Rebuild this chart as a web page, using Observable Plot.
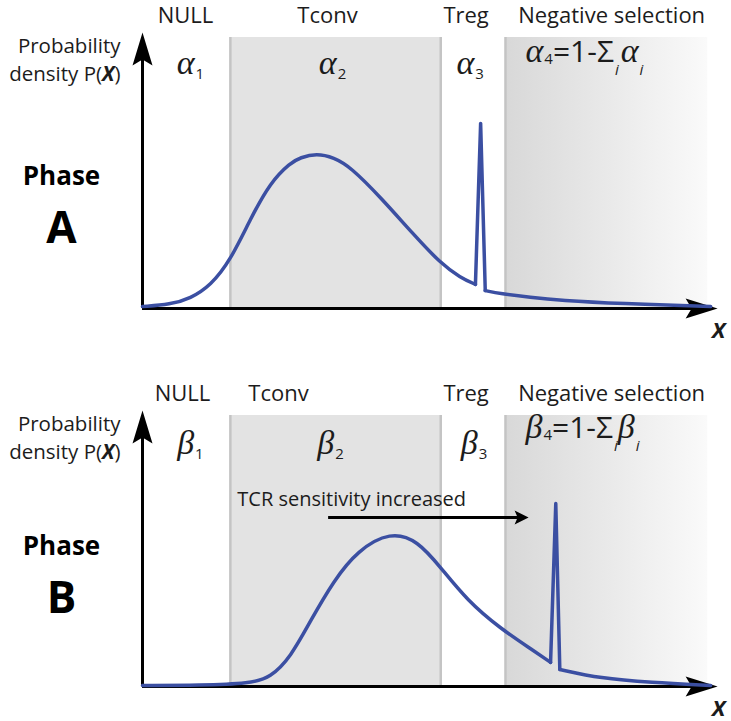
<!DOCTYPE html>
<html><head><meta charset="utf-8">
<script src="https://cdn.jsdelivr.net/npm/d3@7"></script>
<script src="https://cdn.jsdelivr.net/npm/@observablehq/plot@0.6"></script>
<style>html,body{margin:0;padding:0;background:#fff;overflow:hidden}svg{display:block}</style>
</head><body><div id="chart"></div>
<script>
// ---------- data ----------
const regions = ["NULL", "Tconv", "Treg", "Negative selection"];
const regionEdges = [0, 1.52, 5.16, 6.28, 9.78];
const greekA = ["α₁", "α₂", "α₃", "α₄=1-Σᵢ αᵢ"];
const greekB = ["β₁", "β₂", "β₃", "β₄=1-Σᵢβᵢ"];
const curveAx = [0, 0.48, 0.83, 1.18, 1.52, 1.87, 2.21, 2.56, 2.73, 3.01, 3.31, 3.60, 4.12, 4.69, 5.16, 5.50, 5.76, 5.85, 5.93, 6.19, 6.71, 7.23, 8.27, 9.83];
const curveAy = [0.007, 0.015, 0.037, 0.085, 0.177, 0.332, 0.465, 0.538, 0.557, 0.572, 0.557, 0.522, 0.410, 0.273, 0.166, 0.114, 0.089, 0.683, 0.066, 0.055, 0.041, 0.030, 0.018, 0.007];
const curveBx = [0, 1.00, 1.87, 2.21, 2.56, 2.91, 3.31, 3.72, 4.29, 4.76, 5.16, 5.62, 6.19, 6.76, 7.06, 7.15, 7.22, 7.92, 8.79, 9.83];
const curveBy = [0.004, 0.004, 0.011, 0.033, 0.107, 0.244, 0.391, 0.502, 0.572, 0.539, 0.439, 0.317, 0.214, 0.133, 0.089, 0.675, 0.063, 0.030, 0.015, 0.004];
const phases = ["A", "B"];
const phaseWord = "Phase";
const yAxisLabel = "Probability\ndensity P(X)";
const xAxisLabel = "X";
const annotationB = "TCR sensitivity increased";
const annotationArrowB = [3.22, 6.68]; // x from → to

// ---------- style ----------
const SANS = "'Open Sans', sans-serif";
const SERIF = "'Liberation Serif', serif";
const INK = "#1c1c1c";
const BLUE = "#3b4fa2";
const PX = 10 / 578; // one pixel in x data units
const PY = 1 / 271;  // one pixel in y data units

function arrowSymbol(pts) {
  return {draw(ctx) { ctx.moveTo(pts[0][0], pts[0][1]); for (let i = 1; i < pts.length; i++) ctx.lineTo(pts[i][0], pts[i][1]); ctx.closePath(); }};
}
const headUp = arrowSymbol([[0, 0], [10, 33], [0, 27], [-10, 33]]);
const headRight = arrowSymbol([[0, 0], [-32, 10], [-26, 0], [-32, -10]]);
const headSmall = arrowSymbol([[0, 0], [-14, 7], [-11, 0], [-14, -7]]);

function panel(cfg) {
  const centers = d3.range(4).map(i => (regionEdges[i] + regionEdges[i + 1]) / 2);
  const curve = cfg.xs.map((x, i) => ({x, y: cfg.ys[i]}));
  const iSpike = d3.maxIndex(cfg.ys.map((y, i) => (i > 0 && i < cfg.ys.length - 1 && y > cfg.ys[i - 1] && y > cfg.ys[i + 1] && cfg.ys[i - 1] < 0.2) ? y : -1));
  const body = curve.slice(0, iSpike);
  const spike = curve.slice(iSpike - 1, iSpike + 2);
  const tail = curve.slice(iSpike + 1);
  const gid = "neg-grad-" + cfg.phase;
  const defs = () => {
    const d = d3.create("svg:defs");
    const g = d.append("linearGradient").attr("id", gid).attr("x1", 0).attr("x2", 1).attr("y1", 0).attr("y2", 0);
    g.append("stop").attr("offset", 0).attr("stop-color", "#d8d8d8");
    g.append("stop").attr("offset", 1).attr("stop-color", "#fafafa");
    return d.node();
  };
  const tc = regions.indexOf("Tconv"), ng = regions.indexOf("Negative selection");
  const yTip = 1 + 5 * PY, xTip = 9.95;
  const lineStyle = {x: "x", y: "y", stroke: BLUE, strokeWidth: 3.5, strokeLinejoin: "round", strokeLinecap: "round"};
  const marks = [
    defs,
    Plot.rect([tc], {x1: i => regionEdges[i], x2: i => regionEdges[i + 1], y1: 0, y2: 1, fill: "#e3e3e3"}),
    Plot.rect([ng], {x1: i => regionEdges[i], x2: i => regionEdges[i + 1], y1: 0, y2: 1, fill: `url(#${gid})`}),
    Plot.ruleX(regionEdges.slice(1, 4), {y1: 0, y2: 1, stroke: "#c4c4c4", strokeWidth: 2.5}),
    // axes
    Plot.ruleX([0], {y1: 0, y2: yTip - 24 * PY, stroke: "#000", strokeWidth: 3}),
    Plot.ruleY([0], {x1: 0, x2: xTip - 24 * PX, stroke: "#000", strokeWidth: 3}),
    Plot.dot([0], {x: 0, y: yTip, symbol: headUp, fill: "#000", stroke: "none"}),
    Plot.dot([0], {x: xTip, y: 0, symbol: headRight, fill: "#000", stroke: "none"}),
    // curve: smooth body, sharp spike, smooth tail
    Plot.line(body, {...lineStyle, curve: "basis"}),
    Plot.line(spike, {...lineStyle, curve: "linear"}),
    Plot.line(tail, {...lineStyle, curve: "basis"}),
    // region labels
    Plot.text(regions.filter((d, i) => !(cfg.tconvStart && i === tc)), {
      x: d => centers[regions.indexOf(d)] + cfg.labelShift[regions.indexOf(d)] * PX,
      y: 1 + 22 * PY, text: d => d, fontSize: 22, fill: INK, textAnchor: "middle"
    }),
    // greek
    Plot.text(cfg.greek.slice(0, 3), {x: (d, i) => centers[i] + cfg.greekShift[i] * PX, y: cfg.greekY, text: d => d, fontSize: 30, fill: INK, textAnchor: "middle"}),
    Plot.text(cfg.greek.slice(3), {x: regionEdges[3] + 20 * PX, y: cfg.formulaY, text: d => d, fontSize: 30, fill: INK, textAnchor: "start"}),
    // y label
    Plot.text([yAxisLabel], {frameAnchor: "left", dx: -22, y: 1 + 4 * PY, text: d => d, textAnchor: "end", lineAnchor: "top", lineHeight: 1.35, fontSize: 20.5, fill: INK}),
    // x label
    Plot.text([xAxisLabel], {x: 9.97, y: -22 * PY, text: d => d, fontSize: 22, fontWeight: "bold", fontStyle: "italic", fill: INK}),
    // phase labels
    Plot.text([phaseWord], {frameAnchor: "left", dx: -81, y: cfg.phaseY, text: d => d, textAnchor: "middle", fontSize: 26, fontWeight: "bold", fill: "#000"}),
    Plot.text([cfg.phase], {frameAnchor: "left", dx: -81, y: cfg.letterY, text: d => d, textAnchor: "middle", fontSize: 44, fontWeight: "bold", fill: "#000"})
  ];
  if (cfg.tconvStart) {
    marks.push(Plot.text([regions[tc]], {x: regionEdges[tc] + 18 * PX, y: 1 + 22 * PY, text: d => d, fontSize: 22, fill: INK, textAnchor: "start"}));
  }
  if (cfg.annotation) {
    marks.push(
      Plot.text([cfg.annotation], {x: regionEdges[1] + 7 * PX, y: 0.691, text: d => d, fontSize: 20, fill: INK, textAnchor: "start"}),
      Plot.ruleY([0.624], {x1: annotationArrowB[0], x2: annotationArrowB[1] - 10 * PX, stroke: "#000", strokeWidth: 3}),
      Plot.dot([0], {x: annotationArrowB[1], y: 0.624, symbol: headSmall, fill: "#000", stroke: "none"})
    );
  }
  const svg = Plot.plot({
    width: 731, height: cfg.height,
    marginLeft: 142, marginRight: 11, marginTop: 37, marginBottom: cfg.height - 308,
    x: {domain: [0, 10], axis: null},
    y: {domain: [0, 1], axis: null},
    style: {fontFamily: SANS, background: "white", overflow: "visible"},
    marks
  });
  richify(svg);
  return svg;
}

function richify(svg) {
  const ns = "http://www.w3.org/2000/svg";
  const SUB = {"₁": "1", "₂": "2", "₃": "3", "₄": "4", "ᵢ": "i"};
  const SHIFT = {"₁": 5, "₂": 5, "₃": 5, "₄": 2, "ᵢ": 13};
  const mk = (txt, attrs) => {
    const t = document.createElementNS(ns, "tspan");
    t.textContent = txt;
    for (const k in attrs) t.setAttribute(k, attrs[k]);
    return t;
  };
  svg.querySelectorAll("text").forEach(t => {
    const s = t.textContent;
    if (/[₁₂₃₄ᵢ]/.test(s) && t.children.length === 0) {
      t.textContent = "";
      let off = 0;
      for (const ch of s) {
        if (SUB[ch]) {
          const sh = SHIFT[ch];
          t.appendChild(mk(SUB[ch], {"font-size": 15, "font-family": SANS, "font-style": ch === "ᵢ" ? "italic" : "normal", dy: sh - off, dx: 1}));
          off = sh;
        } else {
          const a = /[αβ]/.test(ch)
            ? {"font-size": 34, "font-family": SERIF, "font-style": "italic"}
            : {"font-size": 30, "font-family": SANS};
          if (ch === " ") { a["font-size"] = 8; }
          if (off) { a.dy = -off; off = 0; }
          t.appendChild(mk(ch, a));
        }
      }
    }
  });
  svg.querySelectorAll("tspan, text").forEach(t => {
    if (t.children.length === 0 && /P\(X\)$/.test(t.textContent)) {
      const s = t.textContent;
      t.textContent = s.slice(0, -2);
      t.appendChild(mk("X", {"font-weight": "bold", "font-style": "italic"}));
      t.appendChild(document.createTextNode(")"));
    }
  });
}

const chart = document.getElementById("chart");
chart.appendChild(panel({
  phase: phases[0], height: 378, xs: curveAx, ys: curveAy, greek: greekA,
  labelShift: [-1, -8, -7, 5], greekShift: [4, -3, -3],
  greekY: (308 - 64) * PY, formulaY: (308 - 52) * PY,
  phaseY: (308 - 176) * PY, letterY: (308 - 228) * PY, tconvStart: false
}));
chart.appendChild(panel({
  phase: phases[1], height: 343, xs: curveBx, ys: curveBy, greek: greekB,
  labelShift: [-4, 0, -7, 5], greekShift: [4, -5, 1],
  greekY: (308 - 66) * PY, formulaY: (308 - 50) * PY,
  phaseY: (308 - 168) * PY, letterY: (308 - 220) * PY, tconvStart: true,
  annotation: annotationB
}));
</script>
</body></html>
